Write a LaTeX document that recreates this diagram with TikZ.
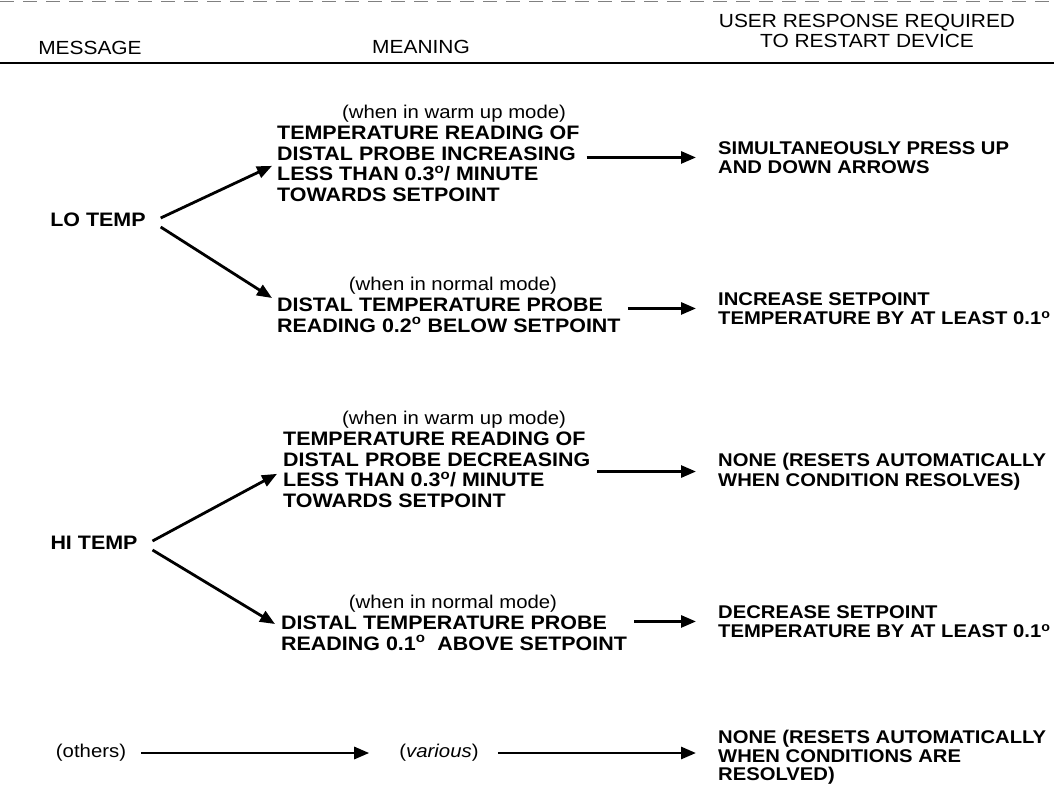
\documentclass[tikz,border=0pt]{standalone}
\usepackage{fontspec}
\setmainfont[FakeStretch=1.1]{Liberation Sans}
\usetikzlibrary{arrows.meta,positioning}

\begin{document}
\begin{tikzpicture}[x=1pt,y=-1pt,
txt/.style={font=\fontsize{19.5}{20.5}\selectfont\bfseries,align=left,inner sep=0pt},
resp/.style={txt,font=\fontsize{18.4}{19.5}\selectfont\bfseries,anchor=north west},
note/.style={font=\fontsize{18.5}{20}\selectfont,inner sep=0pt},
head/.style={font=\fontsize{19}{20}\selectfont,align=center,inner sep=0pt},
msg/.style={txt,outer xsep=15pt},
arr/.style={-{Triangle[length=15pt,width=12pt]},line width=2.8pt,shorten <=7pt,shorten >=22pt},
diag/.style={-{Triangle[length=15pt,width=12pt]},line width=2.8pt}]
\useasboundingbox (0,0) rectangle (1054,784);
% header
\draw[gray,dashed,dash pattern=on 14pt off 9pt] (0,1)--(1054,1);
\node[head] (hmsg) at (90,48) {MESSAGE};
\node[head] (hmean) at (421,47) {MEANING};
\node[head] (hresp) at (867,31) {USER RESPONSE REQUIRED\\TO RESTART DEVICE};
\draw[line width=1.8pt] (0,63)--(1054,63);
% lo temp
\node[msg] (lo) at (98,220) {LO TEMP};
\node[note] (lowarmnote) at (454,114) {(when in warm up mode)};
\node[txt,anchor=north west] (lowarm) at (277,126) {TEMPERATURE READING OF\\DISTAL PROBE INCREASING\\LESS THAN 0.3\textsuperscript{o}/ MINUTE\\TOWARDS SETPOINT};
\node[resp] (loresp) at (718,141) {SIMULTANEOUSLY PRESS UP\\AND DOWN ARROWS};
\node[note] (lonormnote) at (453,286) {(when in normal mode)};
\node[txt,anchor=north west] (lonorm) at (277,298) {DISTAL TEMPERATURE PROBE\\READING 0.2\textsuperscript{o} BELOW SETPOINT};
\node[resp] (lonormresp) at (718,292) {INCREASE SETPOINT\\TEMPERATURE BY AT LEAST 0.1\textsuperscript{o}};
\draw[diag] ([yshift=2pt]lo.east)--([xshift=-5pt,yshift=-2pt]lowarm.west);
\draw[diag] ([yshift=-7pt]lo.east)--([xshift=-5pt]lonorm.north west);
\draw[arr] (lowarm.east |- loresp.west)--(loresp.west);
\draw[arr] (lonorm.east |- lonormresp.west)--(lonormresp.west);
% hi temp
\node[msg] (hi) at (94,543) {HI TEMP};
\node[note] (hiwarmnote) at (454,420) {(when in warm up mode)};
\node[txt,anchor=north west] (hiwarm) at (283,432) {TEMPERATURE READING OF\\DISTAL PROBE DECREASING\\LESS THAN 0.3\textsuperscript{o}/ MINUTE\\TOWARDS SETPOINT};
\node[resp] (hiresp) at (718,453) {NONE (RESETS AUTOMATICALLY\\WHEN CONDITION RESOLVES)};
\node[note] (hinormnote) at (453,604) {(when in normal mode)};
\node[txt,anchor=north west] (hinorm) at (281,616) {DISTAL TEMPERATURE PROBE\\READING 0.1\textsuperscript{o}\ \ ABOVE SETPOINT};
\node[resp] (hinormresp) at (718,605) {DECREASE SETPOINT\\TEMPERATURE BY AT LEAST 0.1\textsuperscript{o}};
\draw[diag] ([yshift=2pt]hi.east)--([xshift=-6pt,yshift=-4pt]hiwarm.west);
\draw[diag] ([yshift=-7pt]hi.east)--([xshift=-6pt,yshift=-8pt]hinorm.north west);
\draw[arr] (hiwarm.east |- hiresp.west)--(hiresp.west);
\draw[arr] (hinorm.east |- hinormresp.west)--(hinormresp.west);
% others
\node[note] (others) at (91,753) {(others)};
\node[note] (various) at (439,753) {(\textit{various})};
\node[resp,font=\fontsize{18.4}{18.5}\selectfont\bfseries] (otherresp) at (718,730) {NONE (RESETS AUTOMATICALLY\\WHEN CONDITIONS ARE\\RESOLVED)};
\draw[arr,shorten <=15pt,shorten >=30pt] (others)--(various);
\draw[arr,shorten <=19pt] (various.east)--(various.east -| otherresp.west);
\end{tikzpicture}
\end{document}
